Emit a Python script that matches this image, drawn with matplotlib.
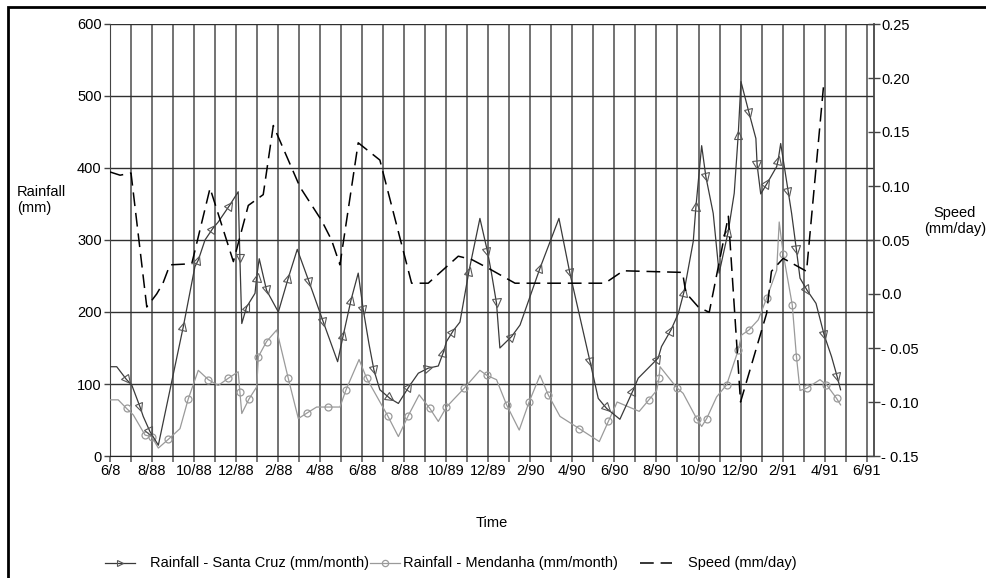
import numpy as np
import matplotlib
matplotlib.use("Agg")
import matplotlib.pyplot as plt
from matplotlib.markers import MarkerStyle
from matplotlib.transforms import Affine2D
from matplotlib.patches import Rectangle
from matplotlib.lines import Line2D

plt.rcParams['font.family'] = ['Liberation Sans', 'DejaVu Sans']

# x axis: months after the first label (6/88), one gridline per month
tick_labels = ['6/8', '8/88', '10/88', '12/88', '2/88', '4/88', '6/88', '8/88',
               '10/89', '12/89', '2/90', '4/90', '6/90', '8/90', '10/90',
               '12/90', '2/91', '4/91', '6/91']
series_names = ['Rainfall - Santa Cruz (mm/month)', 'Rainfall - Mendanha (mm/month)',
                'Speed (mm/day)']

# Rainfall - Santa Cruz (mm/month)
sc_month = [0.00, 0.32, 0.79, 1.03, 1.43, 1.58, 1.90, 2.30, 3.49, 4.04, 4.20, 4.52,
            4.89, 5.15, 5.71, 6.10, 6.18, 6.27, 6.50, 6.90, 6.98, 7.10, 7.45, 8.01,
            8.48, 8.91, 9.47, 10.15, 10.83, 11.10, 11.47, 11.81, 12.05, 12.32, 12.56,
            12.84, 13.32, 13.72, 14.24, 14.67, 15.14, 15.62, 15.86, 16.01, 16.33,
            16.65, 17.08, 17.60, 17.96, 18.15, 18.39, 18.55, 19.11, 19.51, 20.46,
            21.36, 21.88, 22.84, 23.23, 23.63, 24.26, 24.90, 25.13, 26.08, 26.24,
            26.69, 27.04, 27.31, 27.75, 27.88, 28.15, 28.35, 28.70, 28.98, 29.41,
            29.70, 29.89, 30.02, 30.41, 30.73, 30.79, 30.96, 31.27, 31.72, 31.79,
            31.91, 32.27, 32.43, 32.66, 32.83, 33.17, 33.59, 33.98, 34.33, 34.60, 34.76]
sc_rain = [124, 124, 106, 99, 68, 55, 34, 15, 180, 263, 272, 300,
           316, 325, 349, 367, 275, 184, 207, 226, 249, 274, 230, 200,
           247, 287, 242, 186, 131, 168, 217, 254, 203, 156, 119,
           92, 80, 73, 97, 115, 122, 125, 144, 159, 174,
           186, 257, 330, 284, 254, 212, 150, 166, 182, 261,
           330, 254, 131, 80, 66, 51, 92, 108, 136, 152,
           175, 198, 228, 298, 347, 431, 388, 337, 254, 311,
           365, 446, 520, 476, 441, 404, 364, 379, 402, 411,
           434, 367, 337, 286, 247, 230, 212, 168, 138, 110, 92]
sc_marked = [2, 4, 6, 8, 10, 12, 14, 16, 18, 20, 22, 24, 26, 27, 29, 30, 32, 34, 36,
             38, 40, 42, 44, 46, 48, 50, 52, 54, 56, 57, 59, 61, 63, 65, 67, 69, 71,
             74, 76, 78, 80, 82, 84, 86, 88, 90, 92, 94]

# Rainfall - Mendanha (mm/month)
md_month = [0.00, 0.39, 0.79, 1.11, 1.67, 1.98, 2.30, 2.77, 3.33, 3.72, 4.20, 4.68,
            5.15, 5.63, 6.10, 6.18, 6.27, 6.61, 6.98, 7.06, 7.45, 7.93, 8.48, 8.96,
            9.39, 9.83, 10.39, 10.94, 11.23, 11.85, 12.21, 13.21, 13.72, 14.19, 14.71,
            15.22, 15.62, 16.01, 16.33, 16.85, 17.60, 17.93, 18.39, 18.87, 19.47,
            19.94, 20.46, 20.85, 21.41, 22.33, 23.28, 23.71, 24.13, 25.18, 25.64,
            26.01, 26.12, 26.17, 26.96, 27.27, 27.91, 28.15, 28.39, 28.86, 29.34,
            29.89, 30.05, 30.40, 30.84, 31.24, 31.72, 31.84, 32.03, 32.46, 32.66,
            32.83, 33.14, 33.78, 34.09, 34.57, 34.76]
md_rain = [78, 78, 66, 57, 29, 27, 11, 23, 38, 79, 119, 106,
           98, 108, 117, 89, 59, 79, 96, 138, 159, 175, 108, 52,
           60, 68, 68, 68, 92, 134, 108, 56, 27, 56, 85,
           66, 48, 68, 78, 94, 119, 112, 106, 71, 36,
           75, 112, 85, 55, 38, 20, 48, 75, 62, 78,
           91, 108, 124, 95, 87, 52, 41, 52, 82, 99,
           147, 168, 175, 189, 219, 258, 325, 281, 210, 138,
           91, 94, 106, 99, 80, 71]
md_marked = [2, 4, 5, 7, 9, 11, 13, 15, 17, 19, 20, 22, 24, 26, 28, 30, 31, 33, 35,
             37, 39, 41, 43, 45, 47, 49, 51, 54, 56, 58, 60, 62, 64, 65, 67, 69, 72,
             73, 74, 76, 78, 79]

# Speed (mm/day)
sp_month = [0.00, 0.48, 1.00, 1.75, 2.22, 2.52, 2.85, 3.89, 4.76, 5.87, 6.58, 7.29,
            7.77, 9.04, 10.07, 10.54, 10.94, 11.81, 12.84, 14.35, 15.14, 16.57, 17.20,
            18.08, 19.27, 23.55, 24.42, 27.24, 27.40, 27.99, 28.51, 29.42, 30.00,
            31.24, 31.47, 32.03, 33.14, 33.97]
sp_speed = [0.113, 0.110, 0.112, -0.012, 0.000, 0.010, 0.027, 0.028, 0.098, 0.030,
            0.082, 0.092, 0.156, 0.099, 0.068, 0.050, 0.027, 0.140, 0.124, 0.010,
            0.010, 0.035, 0.032, 0.023, 0.010, 0.010, 0.0215, 0.020, 0.001, -0.012,
            -0.017, 0.072, -0.100, -0.018, 0.021, 0.033, 0.021, 0.197]

W, H = 986, 578
FS = 10.5
SC_COL, MD_COL = '#3a3a3a', '#9a9a9a'
DASH = (9, 4.5)

fig = plt.figure(figsize=(W / 100, H / 100), dpi=100)
ax = fig.add_axes([110 / W, 1 - 456 / H, 764 / W, 432 / H])
ax2 = ax.twinx()

ax.set_xlim(0, 36.35)
ax.set_ylim(0, 600)
ax2.set_ylim(-0.15, 0.25)

# grid: one vertical line per month, horizontal lines on the rainfall ticks
ax.set_xticks(range(37))
ax.set_xticklabels([tick_labels[i // 2] if i % 2 == 0 else '' for i in range(37)])
ax.set_yticks(range(0, 601, 100))
ax.grid(axis='x', color='#5a5a5a', lw=1.2, zorder=0)
ax.grid(axis='y', color='#303030', lw=1.0, zorder=0)
ax.set_axisbelow(True)

for s in ['top', 'right']:
    ax.spines[s].set_visible(False)
for s in ['top', 'left', 'bottom']:
    ax2.spines[s].set_visible(False)
ax.spines['left'].set_color('#444444')
ax.spines['bottom'].set_color('#222222')
ax2.spines['right'].set_color('#444444')
ax2.spines['right'].set_linewidth(1.3)

ax.tick_params(axis='x', direction='out', length=4, width=1.1, color='#555555',
               labelsize=FS, pad=2)
ax.tick_params(axis='y', direction='out', length=4, width=1.0, color='#444444',
               labelsize=FS, pad=2)
ax2.set_yticks(np.linspace(-0.15, 0.25, 9))
ax2.set_yticklabels(['- 0.15', '- 0.10', '- 0.05', '0.0', '0.05', '0.10', '0.15',
                     '0.20', '0.25'])
ax2.tick_params(axis='y', direction='inout', length=8, width=1.0, color='#444444',
                labelsize=FS, pad=1)

# series lines
ax.plot(md_month, md_rain, color=MD_COL, lw=0.9, zorder=3)
ax.plot(sc_month, sc_rain, color=SC_COL, lw=0.9, zorder=4)
ax.plot([md_month[i] for i in md_marked], [md_rain[i] for i in md_marked], ls='none',
        marker='o', ms=5, mfc='none', mec=MD_COL, mew=0.9, zorder=3)
ax2.plot(sp_month, sp_speed, color='black', lw=1.1, dashes=DASH, zorder=5)

# triangle markers point along the Santa Cruz line
disp = ax.transData.transform(np.column_stack([sc_month, sc_rain]))
n = len(sc_month)
for i in sc_marked:
    d = disp[min(i + 1, n - 1)] - disp[i - 1]
    ang = np.degrees(np.arctan2(d[1], d[0]))
    m = MarkerStyle('>', transform=Affine2D().rotate_deg(ang))
    ax.plot([sc_month[i]], [sc_rain[i]], ls='none', marker=m, ms=6, mfc='none',
            mec='#555555', mew=0.8, zorder=4)

# axis titles
fig.text(17 / W, 1 - 200 / H, 'Rainfall\n(mm)', ha='left', va='center', fontsize=FS,
         linespacing=1.2)
fig.text(955 / W, 1 - 221 / H, 'Speed\n(mm/day)', ha='center', va='center', fontsize=FS,
         linespacing=1.2)
fig.text(492 / W, 1 - 523 / H, 'Time', ha='center', va='center', fontsize=FS)

# legend, laid out by hand (handle x-range, text start) in pixels
ly = 1 - 563 / H
entries = [((105, 135), 150), ((370, 400), 403), ((640, 672), 688)]
styles = [dict(color=SC_COL, lw=0.9), dict(color=MD_COL, lw=0.9),
          dict(color='black', lw=1.1, dashes=DASH)]
for (h, tx), st, name in zip(entries, styles, series_names):
    fig.add_artist(Line2D([h[0] / W, h[1] / W], [ly, ly], transform=fig.transFigure, **st))
    fig.text(tx / W, ly, name, ha='left', va='center', fontsize=FS)
mid = [(e[0][0] + e[0][1]) / 2 / W for e in entries]
fig.add_artist(Line2D([mid[0]], [ly], transform=fig.transFigure, ls='none', marker='>',
                      ms=5, mfc='none', mec='#555555', mew=0.8))
fig.add_artist(Line2D([mid[1]], [ly], transform=fig.transFigure, ls='none', marker='o',
                      ms=4.5, mfc='none', mec=MD_COL, mew=0.9))

# outer frame
fig.patches.append(Rectangle((8 / W, -0.1), 1.2, 1.1 - 7 / H, transform=fig.transFigure,
                             fill=False, lw=2, ec='black'))

fig.savefig('out.png', dpi=100)
